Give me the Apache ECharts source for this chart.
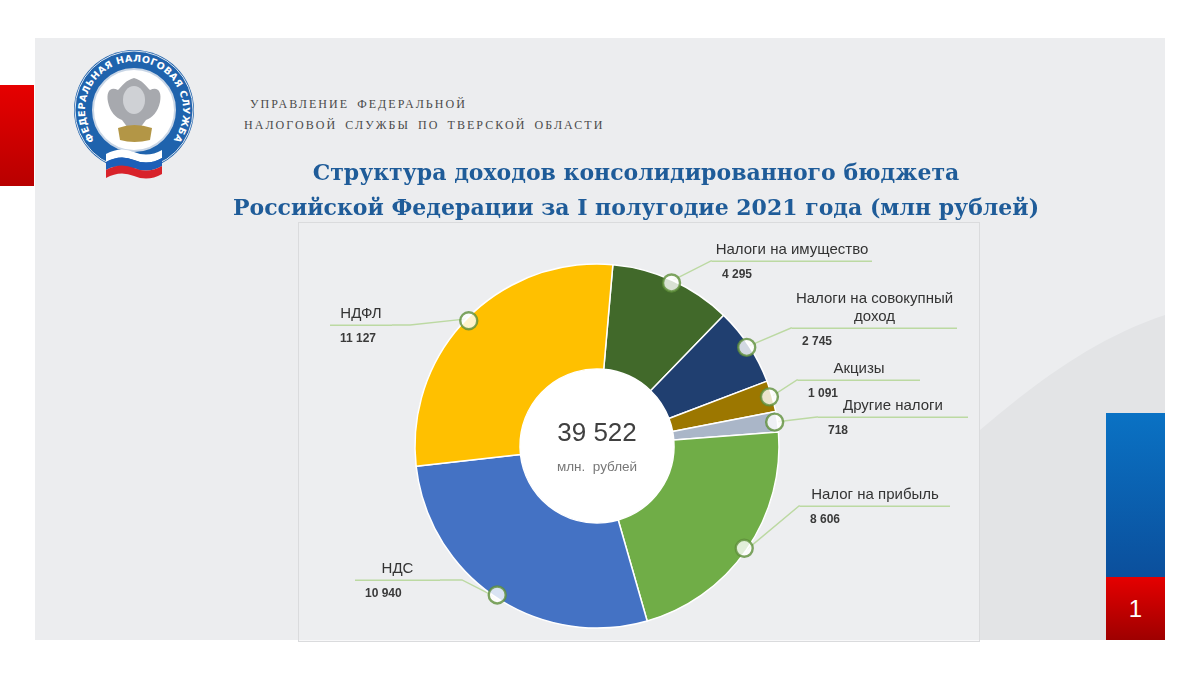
<!DOCTYPE html>
<html>
<head>
<meta charset="utf-8">
<script src="https://cdn.jsdelivr.net/npm/echarts@6/dist/echarts.min.js"></script>
<style>
  html, body { margin: 0; padding: 0; width: 1200px; height: 675px; background: #ffffff; overflow: hidden; }
  #panel { position: absolute; left: 35px; top: 38px; width: 1130px; height: 602px; background: #ecedef; overflow: hidden; }
  #wave { position: absolute; left: 0; top: 0; }
  #plotbox { position: absolute; left: 298px; top: 222px; width: 682px; height: 420px; background: rgba(240,240,242,0.45); border: 1px solid #dadbdd; box-sizing: border-box; }
  #redleft { position: absolute; left: 0; top: 85px; width: 34px; height: 101px; background: linear-gradient(#e60000, #b80000); }
  #blueright { position: absolute; left: 1106px; top: 413px; width: 59px; height: 164px; background: linear-gradient(#0a72c4, #0b4f9c); }
  #redright { position: absolute; left: 1106px; top: 577px; width: 59px; height: 63px; background: linear-gradient(#e50000, #9e0000); color: #fff; font: 24px 'Liberation Sans', Arial, sans-serif; text-align: center; line-height: 63px; }
  #header { position: absolute; left: 244px; top: 94px; font-family: 'Liberation Serif', serif; font-size: 12px; letter-spacing: 2.05px; word-spacing: 3px; color: #4a4a4a; line-height: 21px; }
  #logo { position: absolute; left: 68px; top: 44px; }
  #chart { position: absolute; left: 0; top: 0; width: 1200px; height: 675px; }
</style>
</head>
<body>
<div id="panel">
  <svg id="wave" width="1130" height="602">
    <path d="M1130,277 C1060,300 1000,345 945,392 L945,602 L1130,602 Z" fill="#e3e4e6"/>
  </svg>
</div>
<div id="plotbox"></div>
<div id="redleft"></div>
<div id="blueright"></div>
<div id="redright">1</div>
<div id="header"><div style="padding-left:6px">УПРАВЛЕНИЕ ФЕДЕРАЛЬНОЙ</div><div>НАЛОГОВОЙ СЛУЖБЫ ПО ТВЕРСКОЙ ОБЛАСТИ</div></div>
<svg id="logo" width="134" height="140" viewBox="0 0 134 140">
  <defs>
    <path id="ringText" d="M 31,101 A 49,49 0 1,1 101,101"/>
  </defs>
  <circle cx="66" cy="66" r="60" fill="#1f63ad"/>
  <circle cx="66" cy="66" r="59" fill="none" stroke="#dfe6ef" stroke-width="1"/>
  <circle cx="66" cy="66" r="41" fill="#ffffff" stroke="#c9d6e6" stroke-width="2"/>
  <text font-family="'DejaVu Sans', sans-serif" font-weight="bold" font-size="9.5" fill="#ffffff" letter-spacing="0.4">
    <textPath href="#ringText" startOffset="50%" text-anchor="middle">ФЕДЕРАЛЬНАЯ  НАЛОГОВАЯ  СЛУЖБА</textPath>
  </text>
  <path d="M66,34 C58,36 54,42 50,46 C42,42 38,48 40,58 C42,68 48,74 54,76 L60,84 L72,84 L78,76 C84,74 90,68 92,58 C94,48 90,42 82,46 C78,42 74,36 66,34 Z" fill="#a7a9ae"/>
  <ellipse cx="66" cy="56" rx="11" ry="14" fill="#cfd1d5"/>
  <path d="M50,84 Q66,78 84,84 L82,96 Q66,100 52,96 Z" fill="#b39646"/>
  <path d="M38,110 Q52,102 66,108 Q80,114 94,106 L94,114 Q80,122 66,116 Q52,110 38,118 Z" fill="#ffffff"/>
  <path d="M38,118 Q52,110 66,116 Q80,122 94,114 L94,122 Q80,130 66,124 Q52,118 38,126 Z" fill="#1d5fb8"/>
  <path d="M38,126 Q52,118 66,124 Q80,130 94,122 L94,130 Q80,138 66,132 Q52,126 38,134 Z" fill="#d8222a"/>
</svg>
<div id="chart"></div>
<script>
// ---- data ----
const categories = [
  'Налоги на имущество',
  'Налоги на совокупный доход',
  'Акцизы',
  'Другие налоги',
  'Налог на прибыль',
  'НДС',
  'НДФЛ'
];
const values = [4295, 2745, 1091, 718, 8606, 10940, 11127];
const centerUnit = 'млн.  рублей';
const titleText = 'Структура доходов консолидированного бюджета\nРоссийской Федерации за I полугодие 2021 года (млн рублей)';

// ---- styling ----
const sliceColors = ['#41692a', '#203f70', '#9c7700', '#aab6c8', '#70ad47', '#4472c4', '#ffc000'];
const labelFont = "'Liberation Sans Narrow', 'Liberation Sans', Arial, sans-serif";
const lineColor = '#bcd9a2';
// callout placement (layout styling): side, anchor x, underline y, box width, elbow x
const calloutPlace = [
  { side: 'right', x: 712, y: 261, w: 160 },
  { side: 'right', x: 792, y: 328, w: 165 },
  { side: 'right', x: 798, y: 380, w: 122 },
  { side: 'right', x: 818, y: 417, w: 150 },
  { side: 'right', x: 800, y: 506, w: 150 },
  { side: 'left', x: 440, y: 580, w: 85, elbow: 462 },
  { side: 'left', x: 392, y: 325, w: 62, elbow: 410 }
];
const VALUE_BLOCK_H = 19; // distance from the rule line to the bottom of the label box

function fmt(v) { return String(v).replace(/\B(?=(\d{3})+(?!\d))/g, ' '); }
function wrapName(n) {
  if (n.length <= 20) return n;
  const cut = n.lastIndexOf(' ', 20);
  return n.slice(0, cut) + '\n' + n.slice(cut + 1);
}

const total = values.reduce((a, b) => a + b, 0);
const pieData = categories.map((c, i) => ({
  name: c, value: values[i],
  itemStyle: { color: sliceColors[i] },
  label: { width: calloutPlace[i].w }
}));

// marker positions via polar scales (mid-angle of each slice, at outer edge)
const markerData = [];
let acc = 0;
values.forEach(v => { markerData.push([0.985, acc + v / 2]); acc += v; });

const CENTER = [597, 446];
const R_IN = 77, R_OUT = 182;

const chart = echarts.init(document.getElementById('chart'), null, { renderer: 'canvas' });
chart.setOption({
  backgroundColor: 'transparent',
  animation: false,
  title: {
    text: titleText,
    left: 631,
    top: 152,
    textAlign: 'center',
    textStyle: {
      fontFamily: "'DejaVu Serif', 'Liberation Serif', serif",
      fontWeight: 'bold',
      fontSize: 22,
      lineHeight: 35,
      color: '#1f5c99'
    }
  },
  polar: { center: CENTER, radius: R_OUT },
  angleAxis: { type: 'value', min: 0, max: total, startAngle: 85, clockwise: true, show: false },
  radiusAxis: { type: 'value', min: 0, max: 1, show: false },
  series: [
    {
      type: 'pie',
      center: CENTER,
      radius: [R_IN, R_OUT],
      startAngle: 85,
      clockwise: true,
      silent: true,
      itemStyle: { borderColor: '#ffffff', borderWidth: 1.5 },
      data: pieData,
      label: {
        position: 'outside',
        overflow: 'none',
        formatter: p => '{name|' + wrapName(p.name) + '}\n{hr|}\n{value|' + fmt(p.value) + '}',
        rich: {
          name: { fontFamily: labelFont, fontSize: 15, color: '#333333', lineHeight: 18, align: 'center', padding: [0, 2, 4, 2] },
          hr: { borderColor: lineColor, borderWidth: 1.4, width: '100%', height: 0 },
          value: { fontFamily: labelFont, fontSize: 12, fontWeight: 'bold', color: '#3a3a3a', lineHeight: 18, align: 'left', padding: [8, 0, 0, 10] }
        }
      },
      labelLine: {
        show: true,
        length: 28,
        length2: 6,
        lineStyle: { color: lineColor, width: 1.4 }
      },
      labelLayout: function (params) {
        const P = calloutPlace[params.dataIndex];
        const h = params.labelRect.height;
        const midY = P.y - h / 2 + VALUE_BLOCK_H;
        const start = params.labelLinePoints ? params.labelLinePoints[0] : [P.x, P.y];
        const elbowX = P.side === 'left' ? P.elbow : P.x - 1;
        return {
          x: P.x,
          y: midY,
          align: P.side === 'left' ? 'right' : 'left',
          verticalAlign: 'middle',
          labelLinePoints: [start, [elbowX, P.y], [P.x, P.y]]
        };
      },
      z: 2
    },
    {
      type: 'pie',
      center: CENTER,
      radius: [0, R_IN],
      silent: true,
      data: [{ name: 'total', value: total, itemStyle: { color: '#ffffff' } }],
      label: {
        position: 'center',
        formatter: p => '{big|' + fmt(p.value) + '}\n{small|' + centerUnit + '}',
        rich: {
          big: { fontFamily: "'Liberation Sans', Arial, sans-serif", fontSize: 26, color: '#404040', lineHeight: 42 },
          small: { fontFamily: "'Liberation Sans', Arial, sans-serif", fontSize: 13.5, color: '#777777', lineHeight: 24 }
        }
      },
      labelLine: { show: false },
      z: 1
    },
    {
      type: 'scatter',
      coordinateSystem: 'polar',
      silent: true,
      symbol: 'circle',
      symbolSize: 17,
      itemStyle: { color: '#ffffff', borderColor: '#5e8f3a', borderWidth: 2.4 },
      data: markerData,
      z: 5
    }
  ]
});
</script>
</body>
</html>
